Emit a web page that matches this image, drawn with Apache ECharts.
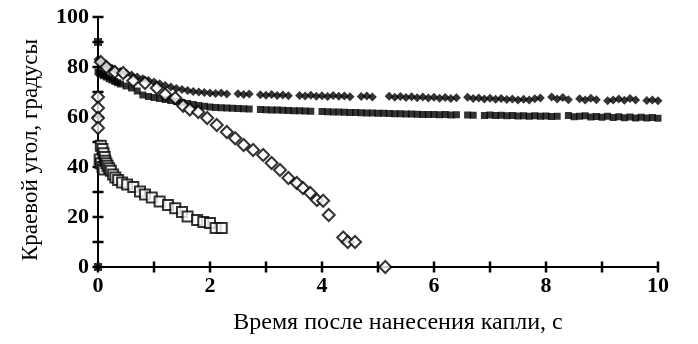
<!DOCTYPE html>
<html><head><meta charset="utf-8">
<script src="https://cdn.jsdelivr.net/npm/echarts@6/dist/echarts.min.js"></script>
<style>html,body{margin:0;padding:0;background:#fff}#c{width:698px;height:344px}</style>
</head><body><div id="c"></div>
<script>
const xTicks = [0, 2, 4, 6, 8, 10];
const yTicks = [0, 20, 40, 60, 80, 100];
const xTickMarks = [0, 1, 2, 3, 4, 5, 6, 7, 8, 9, 10];
const yTickMarks = [0, 10, 20, 30, 40, 50, 60, 70, 80, 90, 100];
const xName = 'Время после нанесения капли, с';
const yName = 'Краевой угол, градусы';

const filledDiamonds = [[0,83],[0.03,82],[0.07,81.5],[0.1,81],[0.15,80.5],[0.2,80],[0.25,79.5],[0.3,79],[0.4,78.2],[0.5,77.5],[0.6,76.8],[0.7,76],[0.8,75.3],[0.9,74.6],[1.0,74],[1.1,73.3],[1.2,72.6],[1.3,72],[1.4,71.4],[1.5,71],[1.6,70.6],[1.7,70.2],[1.8,70],[1.9,69.8],[2.0,69.6],[2.1,69.4],[2.2,69.6],[2.3,69.2],[2.5,69.3],[2.6,69.0],[2.7,69.2],[2.9,68.9],[3.0,68.7],[3.1,69.0],[3.2,68.6],[3.3,68.8],[3.4,68.5],[3.6,68.6],[3.7,68.4],[3.8,68.7],[3.9,68.3],[4.0,68.5],[4.1,68.2],[4.2,68.6],[4.3,68.3],[4.4,68.4],[4.5,68.1],[4.7,68.2],[4.8,68.4],[4.9,68.0],[5.2,68.3],[5.3,67.9],[5.4,68.2],[5.5,67.8],[5.6,68.1],[5.7,67.7],[5.8,68.0],[5.9,67.6],[6.0,67.9],[6.1,67.5],[6.2,67.8],[6.3,67.4],[6.4,67.7],[6.6,67.9],[6.7,67.4],[6.8,67.6],[6.9,67.2],[7.0,67.5],[7.1,67.1],[7.2,67.4],[7.3,67.0],[7.4,67.2],[7.5,66.8],[7.6,67.1],[7.7,66.8],[7.8,67.3],[7.9,67.6],[8.1,68.0],[8.2,67.2],[8.3,67.8],[8.4,66.9],[8.6,67.3],[8.7,66.8],[8.8,67.5],[8.9,66.9],[9.1,66.5],[9.2,66.8],[9.3,67.2],[9.4,66.7],[9.5,67.4],[9.6,66.8],[9.8,66.6],[9.9,66.8],[10.0,66.5]];

const filledSquares = [[0,78],[0.03,77.5],[0.07,77],[0.1,76.5],[0.15,76],[0.2,75.3],[0.25,74.8],[0.3,74.2],[0.35,73.7],[0.4,73.2],[0.5,72.4],[0.6,71.6],[0.7,70.4],[0.8,68.8],[0.9,68.2],[1.0,67.8],[1.1,67.4],[1.2,67.0],[1.3,66.6],[1.4,66.2],[1.5,65.8],[1.6,65.4],[1.7,65.0],[1.8,64.6],[1.9,64.3],[2.0,64.0],[2.1,63.8],[2.2,63.7],[2.3,63.6],[2.4,63.5],[2.5,63.4],[2.6,63.3],[2.7,63.2],[2.9,63.0],[3.0,62.9],[3.1,62.8],[3.2,62.8],[3.3,62.7],[3.4,62.6],[3.5,62.5],[3.6,62.5],[3.7,62.4],[3.8,62.3],[4.0,62.2],[4.1,62.1],[4.2,62.0],[4.3,62.0],[4.4,61.9],[4.5,61.8],[4.6,61.8],[4.7,61.7],[4.8,61.6],[4.9,61.6],[5.0,61.5],[5.1,61.5],[5.2,61.4],[5.3,61.3],[5.4,61.3],[5.5,61.2],[5.6,61.2],[5.7,61.1],[5.8,61.0],[5.9,61.0],[6.0,61.0],[6.1,60.9],[6.2,61.0],[6.3,60.8],[6.4,60.9],[6.6,60.8],[6.7,60.7],[6.9,60.6],[7.0,60.8],[7.1,60.6],[7.2,60.7],[7.3,60.5],[7.4,60.6],[7.5,60.4],[7.6,60.5],[7.7,60.3],[7.8,60.5],[7.9,60.3],[8.0,60.4],[8.1,60.2],[8.2,60.3],[8.4,60.6],[8.5,60.1],[8.6,60.3],[8.7,60.5],[8.8,60.0],[8.9,60.2],[9.0,59.9],[9.1,60.3],[9.2,59.8],[9.3,60.1],[9.4,59.7],[9.5,60.0],[9.6,59.6],[9.7,59.9],[9.8,59.6],[9.9,59.8],[10.0,59.5]];

const openDiamonds = [[0,68],[0,63.6],[0,59.6],[0,55.6],[0.05,82],[0.15,80],[0.3,78],[0.45,77.6],[0.63,74.5],[0.84,73.6],[1.05,71.6],[1.2,69],[1.38,67.6],[1.52,64.5],[1.64,63],[1.79,62],[1.95,59.6],[2.12,56.8],[2.3,54],[2.45,51.5],[2.6,48.8],[2.77,46.8],[2.95,44.8],[3.1,41.6],[3.25,38.8],[3.4,35.6],[3.55,33.6],[3.66,31.6],[3.79,29.6],[3.91,26.8],[4.02,26.5],[4.12,20.8],[4.38,11.8],[4.46,10],[4.59,10],[5.13,0]];

const openSquares = [[0.03,43],[0.05,41.5],[0.08,40],[0.1,39],[0.05,48.5],[0.08,47.2],[0.1,45.5],[0.12,44],[0.13,42.5],[0.15,41.5],[0.17,40.5],[0.2,39.5],[0.23,38.5],[0.27,37],[0.31,35.8],[0.36,34.8],[0.43,33.8],[0.52,33],[0.63,32],[0.75,30.2],[0.84,29],[0.96,27.8],[1.1,26.2],[1.25,24.8],[1.38,23.5],[1.5,22],[1.6,20.2],[1.77,18.8],[1.88,18],[2.0,17.6],[2.1,15.6],[2.21,15.6]];

const crosses = [[0,90],[0,0]];

const font = 'Liberation Serif';
const chart = echarts.init(document.getElementById('c'));
const xsym = 'path://M0,0L3,0L5,2L7,0L10,0L10,3L8,5L10,7L10,10L7,10L5,8L3,10L0,10L0,7L2,5L0,3Z';
const TL = 5.5;
function xTickItem(params, api) {
  const p = api.coord([api.value(0), api.value(1)]);
  return {type: 'line', shape: {x1: p[0], y1: p[1] - TL, x2: p[0], y2: p[1] + TL},
    style: {stroke: '#000', lineWidth: 2.5}};
}
function yTickItem(params, api) {
  const p = api.coord([api.value(0), api.value(1)]);
  return {type: 'line', shape: {x1: p[0] - TL, y1: p[1], x2: p[0] + TL, y2: p[1]},
    style: {stroke: '#000', lineWidth: 2.5}};
}
chart.setOption({
  animation: false,
  backgroundColor: '#fff',
  grid: {left: 98, right: 40, top: 17, bottom: 77},
  xAxis: {
    type: 'value', min: 0, max: 10, interval: 1,
    splitLine: {show: false},
    axisLine: {show: true, lineStyle: {color: '#000', width: 2}},
    name: xName, nameLocation: 'middle', nameGap: 44,
    nameTextStyle: {fontFamily: font, fontSize: 24, color: '#000', padding: [0, 0, 0, 40]},
    axisTick: {show: false},
    axisLabel: {show: true, fontFamily: font, fontSize: 22, fontWeight: 'bold', color: '#000', margin: 8,
      formatter: v => xTicks.indexOf(v) >= 0 ? String(v) : ''}
  },
  yAxis: {
    type: 'value', min: 0, max: 100, interval: 10,
    splitLine: {show: false},
    axisLine: {show: true, lineStyle: {color: '#000', width: 2}},
    name: yName, nameLocation: 'middle', nameGap: 56,
    nameTextStyle: {fontFamily: font, fontSize: 23, color: '#000', padding: [0, 16, 0, 0]},
    axisTick: {show: false},
    axisLabel: {show: true, fontFamily: font, fontSize: 22, fontWeight: 'bold', color: '#000', margin: 9,
      formatter: v => yTicks.indexOf(v) >= 0 ? String(v) : ''}
  },
  series: [
    {type: 'custom', data: xTickMarks.map(v => [v, 0]), renderItem: xTickItem, clip: false, silent: true, z: 1},
    {type: 'custom', data: yTickMarks.map(v => [0, v]), renderItem: yTickItem, clip: false, silent: true, z: 1},
    {type: 'scatter', data: filledSquares, symbol: 'rect', symbolSize: 7,
      itemStyle: {color: '#000'}, z: 2},
    {type: 'scatter', data: filledDiamonds, symbol: 'diamond', symbolSize: 9,
      itemStyle: {color: '#000'}, z: 3},
    {type: 'scatter', data: crosses, symbol: xsym, symbolSize: 8,
      itemStyle: {color: '#000'}, z: 4},
    {type: 'scatter', data: openSquares, symbol: 'rect', symbolSize: 10,
      itemStyle: {color: '#fff', borderColor: '#000', borderWidth: 2}, z: 5},
    {type: 'scatter', data: openDiamonds, symbol: 'diamond', symbolSize: 12,
      itemStyle: {color: '#fff', borderColor: '#000', borderWidth: 2}, z: 6}
  ]
});
</script></body></html>
